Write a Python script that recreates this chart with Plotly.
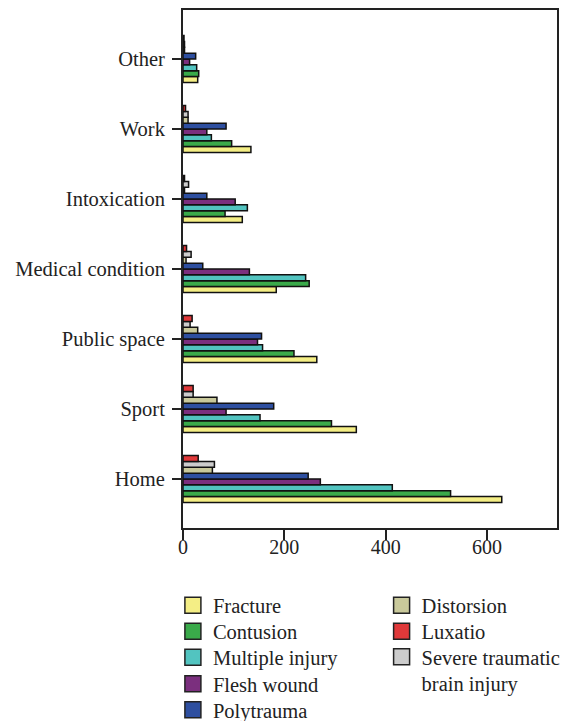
import plotly.graph_objects as go

categories = ["Home", "Sport", "Public space", "Medical condition", "Intoxication", "Work", "Other"]

fracture = [629, 342, 264, 184, 117, 134, 29]
contusion = [528, 293, 219, 249, 83, 96, 31]
multiple_injury = [413, 152, 157, 242, 127, 56, 27]
flesh_wound = [271, 85, 147, 131, 103, 47, 13]
polytrauma = [247, 179, 155, 39, 47, 85, 25]
distorsion = [58, 67, 29, 6, 3, 10, 3]
severe_tbi = [62, 20, 14, 16, 11, 10, 3]
luxatio = [30, 20, 18, 7, 3, 5, 2]

series_names = ["Fracture", "Contusion", "Multiple injury", "Flesh wound", "Polytrauma",
                "Distorsion", "Severe traumatic<br>brain injury", "Luxatio"]
series_values = [fracture, contusion, multiple_injury, flesh_wound, polytrauma,
                 distorsion, severe_tbi, luxatio]
colors = ["#F4EE85", "#3AAA4A", "#52C4C0", "#7B2F7E", "#2E4FA0", "#C9C99B", "#CCCCCC", "#E0393A"]

FONT = "Liberation Serif"
INK = "#222222"

fig = go.Figure()
for name, vals, col in zip(series_names, series_values, colors):
    fig.add_trace(go.Bar(
        y=categories, x=vals, orientation="h", name=name,
        marker=dict(color=col, line=dict(color="#111111", width=1.5)),
        showlegend=False,
    ))

# legend layout: (column x in paper units, row center y in paper units)
plot_top, plot_bottom = 9.5, 528.0
plot_h = plot_bottom - plot_top
def py(px):
    return (plot_bottom - px) / plot_h

col1_x, col2_x = -0.027, 0.531
legend_pos = {
    "Fracture": (col1_x, py(605.5)),
    "Contusion": (col1_x, py(631.5)),
    "Multiple injury": (col1_x, py(657.5)),
    "Flesh wound": (col1_x, py(684)),
    "Polytrauma": (col1_x, py(710)),
    "Distorsion": (col2_x, py(605.5)),
    "Luxatio": (col2_x, py(631.5)),
    "Severe traumatic<br>brain injury": (col2_x, py(657.5)),
}

legend_layouts = {}
for i, (name, col) in enumerate(zip(series_names, colors)):
    lid = "legend" if i == 0 else f"legend{i + 1}"
    fig.add_trace(go.Scatter(
        x=[None], y=[None], mode="markers", name=name, legend=lid,
        marker=dict(symbol="square", size=16, color=col, line=dict(color=INK, width=1.5)),
        showlegend=True,
    ))
    lx, ly = legend_pos[name]
    two_line = "<br>" in name
    legend_layouts[lid] = dict(
        x=lx, y=ly + (20.5 / plot_h if two_line else 0), xanchor="left",
        yanchor="top" if two_line else "middle",
        font=dict(family=FONT, size=20.5, color=INK), itemsizing="trace",
        valign="top", bgcolor="rgba(0,0,0,0)", borderwidth=0,
    )

fig.update_layout(
    width=570, height=721,
    margin=dict(l=182.5, r=12.7, t=9.5, b=193, autoexpand=False),
    paper_bgcolor="white", plot_bgcolor="white",
    barmode="group", bargap=0.33, bargroupgap=0,
    font=dict(family=FONT, size=20.5, color=INK),
    xaxis=dict(range=[0, 738], tickvals=[0, 200, 400, 600], ticks="outside", ticklen=10,
               tickwidth=1.5, tickcolor=INK, showline=True, linewidth=2, linecolor=INK,
               mirror=True, showgrid=False, zeroline=False, tickfont=dict(size=20),
               ticklabelstandoff=-10),
    yaxis=dict(type="category", categoryorder="array", categoryarray=categories,
               range=[-0.7, 6.7], ticks="outside", ticklen=9, tickwidth=1.5, tickcolor=INK,
               showline=True, linewidth=2, linecolor=INK, mirror=True, showgrid=False,
               zeroline=False, ticklabelstandoff=3),
    **legend_layouts,
)

fig.write_html(
    "out.html",
    config={"displayModeBar": False},
    post_script="document.body.style.margin='0';document.body.style.overflow='hidden';",
)
